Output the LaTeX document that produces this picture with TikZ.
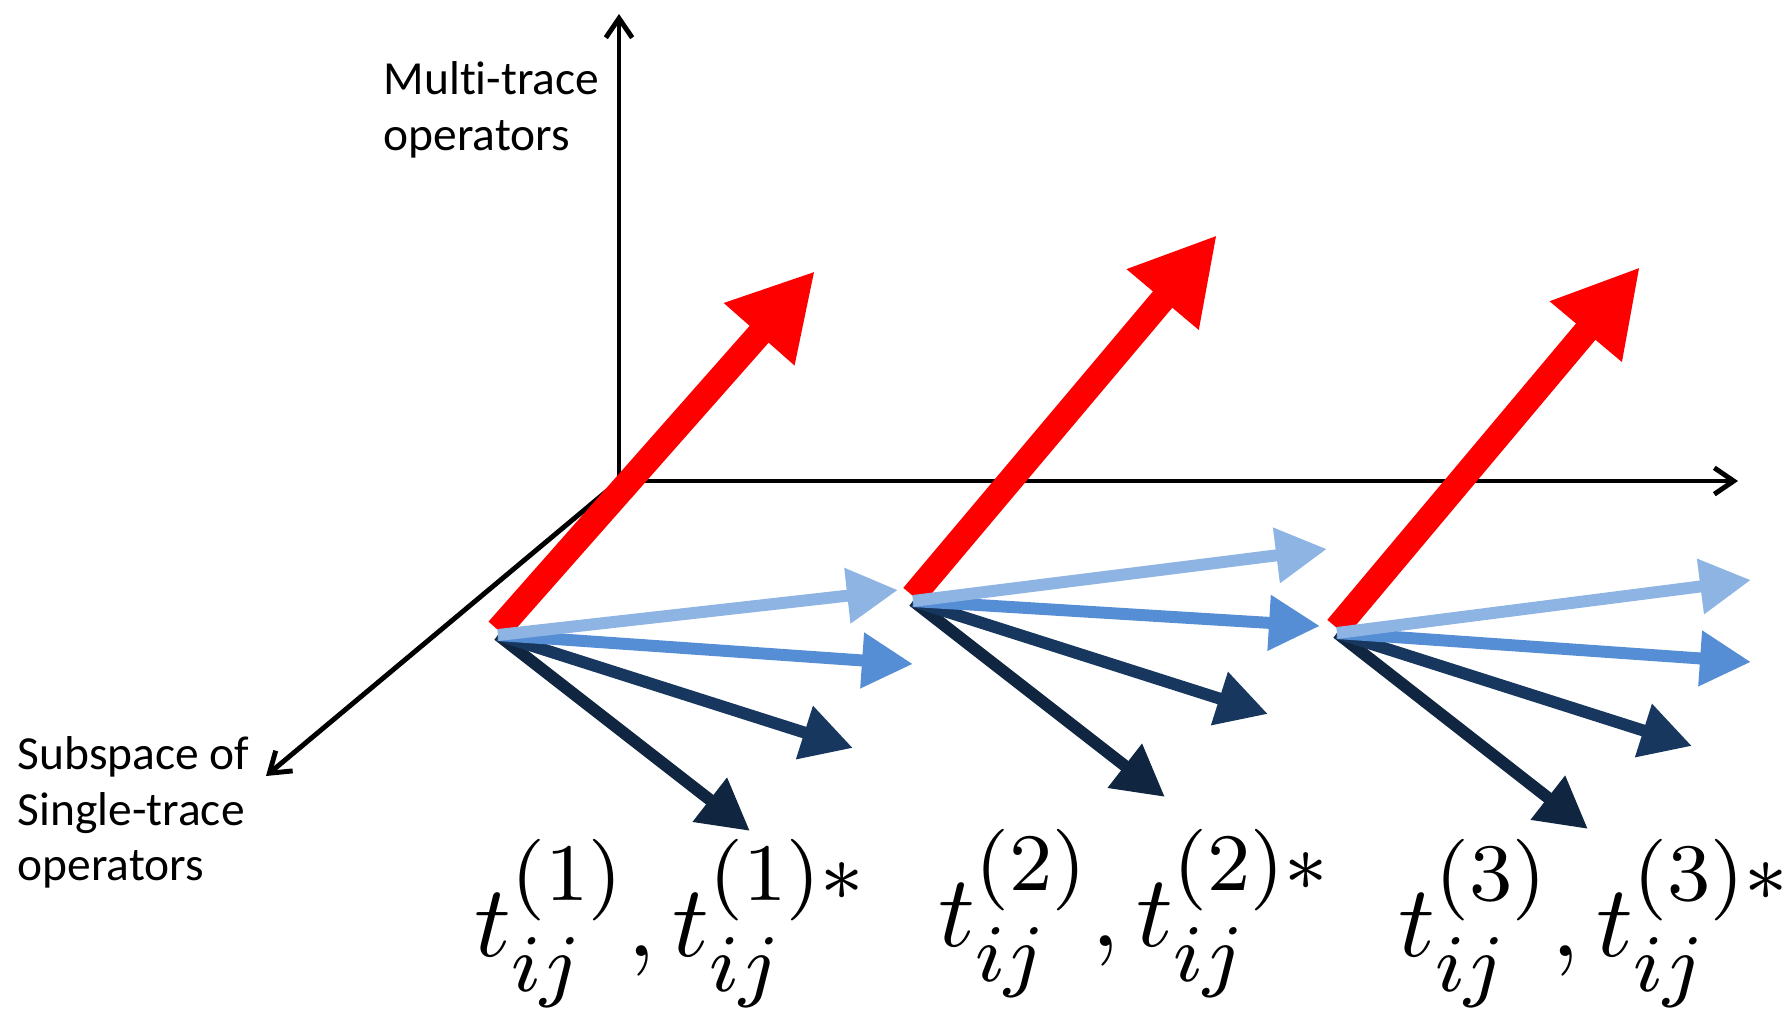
\documentclass[tikz,border=0pt]{standalone}
\usepackage{fontspec}
\usepackage{graphicx}
\usepackage{tikz}
\usetikzlibrary{arrows.meta, calc}
\newfontfamily\labelfont[Ligatures=NoCommon]{Carlito}
\DeclareMathSizes{10}{10}{8}{6}
\definecolor{vecred}{RGB}{255,0,0}
\definecolor{lightblue}{RGB}{142,180,227}
\definecolor{midblue}{RGB}{85,142,213}
\definecolor{darkblue}{RGB}{23,55,94}
\definecolor{navyblue}{RGB}{16,37,63}
\newcommand{\tracepair}[1]{\scalebox{2.9}{$t_{ij}^{(#1)}, t_{ij}^{(#1)*}$}}
\tikzset{
  axis/.style={draw=black, line width=1.4pt, -{Straight Barb[length=5.5pt, width=7.5pt]}},
  multi/.style={draw=vecred, line width=7.2pt, -{Triangle[length=24pt, width=25pt]}},
  single/.style={line width=3.4pt, -{Triangle[length=14.5pt, width=15pt]}},
  axis label/.style={font=\labelfont\fontsize{13.5}{15.8}\selectfont, align=left,
    inner sep=0pt, anchor=north west},
  trace label/.style={inner sep=0pt, anchor=base west},
}

\begin{document}
\begin{tikzpicture}[x=0.01cm, y=-0.01cm]
  \useasboundingbox (0,0) rectangle (1787,1009);

  % axes
  \coordinate (O) at (619,481);
  \coordinate (Ytop) at (619,14);
  \coordinate (Xend) at (1738,481);
  \coordinate (Zend) at (266,776);
  \draw[axis] (O) -- (Ytop);
  \draw[axis] (O) -- (Xend);
  \draw[axis] (O) -- (Zend);

  \node[axis label] (multilabel) at (383,61) {Multi-trace\\operators};
  \node[axis label] (singlelabel) at (17,736) {Subspace of\\Single-trace\\operators};

  % first family
  \coordinate (A0) at (498,635);
  \coordinate (Ared) at (815,271);
  \coordinate (A1) at (898,590);
  \coordinate (A2) at (913,664);
  \coordinate (A3) at (853,748);
  \coordinate (A4) at (750,831);
  \draw[multi] ($(A0)+(0,-5)$) -- (Ared);
  \draw[single, navyblue] (A0) -- (A4);
  \draw[single, darkblue] (A0) -- (A3);
  \draw[single, midblue] (A0) -- (A2);
  \draw[single, lightblue] (A0) -- (A1);

  % second family
  \coordinate (B0) at (913,601);
  \coordinate (Bred) at (1217,235);
  \coordinate (B1) at (1327,549);
  \coordinate (B2) at (1320,626);
  \coordinate (B3) at (1268,714);
  \coordinate (B4) at (1165,797);
  \draw[multi] ($(B0)+(0,-5)$) -- (Bred);
  \draw[single, navyblue] (B0) -- (B4);
  \draw[single, darkblue] (B0) -- (B3);
  \draw[single, midblue] (B0) -- (B2);
  \draw[single, lightblue] (B0) -- (B1);

  % third family
  \coordinate (C0) at (1337,633);
  \coordinate (Cred) at (1640,267);
  \coordinate (C1) at (1751,580);
  \coordinate (C2) at (1751,662);
  \coordinate (C3) at (1692,746);
  \coordinate (C4) at (1588,829);
  \draw[multi] ($(C0)+(0,-5)$) -- (Cred);
  \draw[single, navyblue] (C0) -- (C4);
  \draw[single, darkblue] (C0) -- (C3);
  \draw[single, midblue] (C0) -- (C2);
  \draw[single, lightblue] (C0) -- (C1);

  \node[trace label] (tone) at (474,956) {\tracepair{1}};
  \node[trace label] (ttwo) at (938,946) {\tracepair{2}};
  \node[trace label] (tthree) at (1398,956) {\tracepair{3}};
\end{tikzpicture}
\end{document}
